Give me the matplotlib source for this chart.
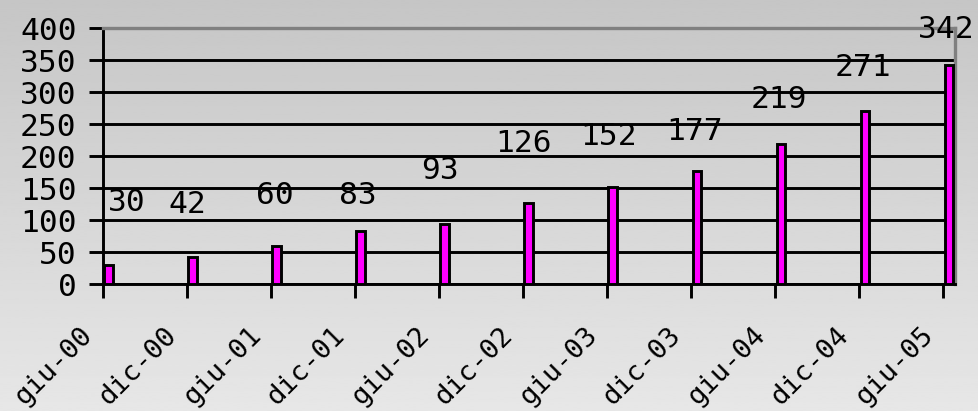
import numpy as np
import matplotlib
matplotlib.use("Agg")
import matplotlib.pyplot as plt
from matplotlib.transforms import ScaledTranslation

# 数据
categories = ["giu-00", "dic-00", "giu-01", "dic-01", "giu-02", "dic-02",
              "giu-03", "dic-03", "giu-04", "dic-04", "giu-05"]
values = [30, 42, 60, 83, 93, 126, 152, 177, 219, 271, 342]

# 数据标签的位置（仿照原图中偏移的标签）
label_dx = [0.28, 0.0, 0.04, 0.03, 0.01, 0.01, 0.02, 0.04, 0.05, 0.04, 0.04]
label_y = [127, 125, 139, 139, 178, 220, 231, 239, 288, 338, 397]

W, H = 979, 411
fig = plt.figure(figsize=(W / 100, H / 100), dpi=100)

# 背景渐变
bg = fig.add_axes([0, 0, 1, 1], zorder=-10)
grad = np.linspace(0.775, 0.905, 256).reshape(-1, 1)
bg.imshow(grad, cmap="gray", vmin=0, vmax=1, aspect="auto", extent=[0, 1, 1, 0])
bg.set_axis_off()

left, right, top, bottom = 103, 955, 28, 284
ax = fig.add_axes([left / W, 1 - bottom / H, (right - left) / W, (bottom - top) / H])
ax.patch.set_alpha(0)

lw = 2.1
x = np.arange(len(categories))
ax.bar(x + 0.016, values, width=0.1, align="edge", color="#ff00ff",
       edgecolor="black", linewidth=lw, zorder=3)

ax.set_xlim(0, 10.14)
ax.set_ylim(0, 400)
ax.set_yticks(np.arange(0, 401, 50))
ax.grid(axis="y", color="black", linewidth=lw, zorder=1)
ax.set_axisbelow(True)

mono = "DejaVu Sans Mono"
for xi, dx, yl, v in zip(x, label_dx, label_y, values):
    ax.text(xi + dx, yl, str(v), ha="center", va="center", fontsize=22.5,
            family=mono, color="black", zorder=5, clip_on=False)

ax.set_xticks(x)
ax.set_xticklabels(categories, rotation=45, ha="right", va="center",
                   rotation_mode="anchor", family=mono, fontsize=19.5)
ax.tick_params(axis="x", length=10, width=lw, color="black", pad=24)
ax.tick_params(axis="y", length=10, width=lw, color="black", pad=9,
               labelsize=22.5)
for lab in ax.get_yticklabels():
    lab.set_family(mono)
shift = ScaledTranslation(-10 / 72, 0, fig.dpi_scale_trans)
for lab in ax.get_xticklabels():
    lab.set_transform(lab.get_transform() + shift)

ax.spines["left"].set_color("black")
ax.spines["left"].set_linewidth(lw)
ax.spines["bottom"].set_color("black")
ax.spines["bottom"].set_linewidth(lw)
ax.spines["top"].set_color("#808080")
ax.spines["top"].set_linewidth(2.4)
ax.spines["right"].set_color("#808080")
ax.spines["right"].set_linewidth(2.4)

fig.savefig("out.png", dpi=100)
